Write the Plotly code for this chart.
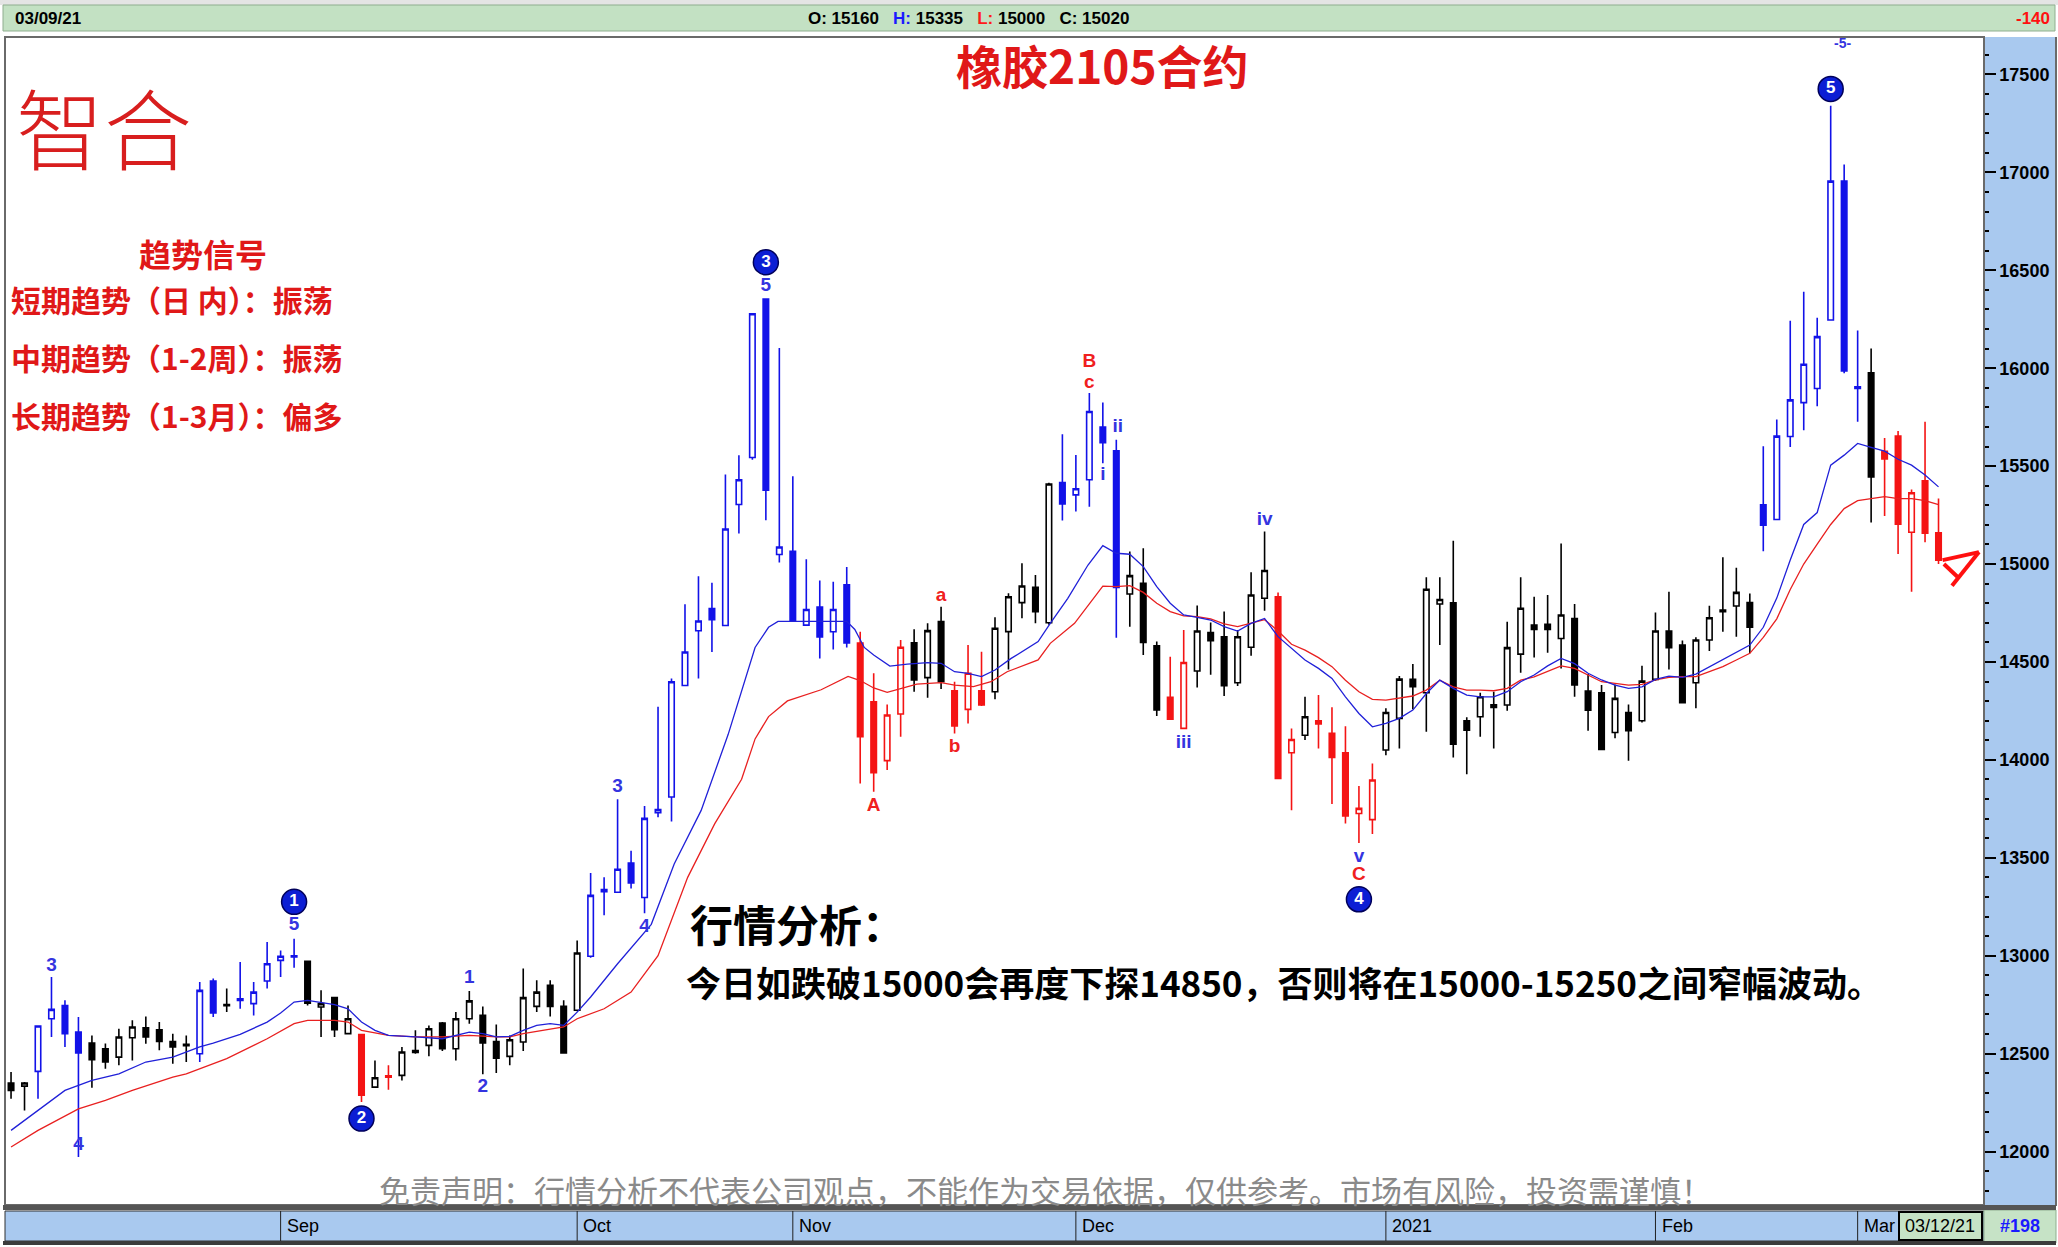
import plotly.graph_objects as go

# ---------------- DATA ----------------
candle_idx = list(range(1, 145))
opens = [12350, 12334, 12409, 12678, 12746, 12610, 12554, 12525, 12482, 12581,
         12632, 12622, 12562, 12547, 12499, 12871, 12750, 12780, 12755, 12871,
         12976, 12993, 12971, 12738, 12786, 12602, 12597, 12329, 12380, 12389,
         12516, 12542, 12656, 12525, 12678, 12695, 12562, 12486, 12559, 12741,
         12849, 12741, 12721, 12997, 13327, 13324, 13473, 13297, 13730, 13810,
         14380, 14659, 14773, 14686, 15304, 15544, 16353, 15049, 15065, 14688,
         14780, 14654, 14894, 14597, 14297, 13996, 14234, 14598, 14420, 14706,
         14353, 14258, 14353, 14348, 14655, 14803, 14881, 14700, 15416, 15353,
         15430, 15699, 15578, 14847, 14902, 14582, 14319, 14161, 14454, 14650,
         14629, 14394, 14575, 14825, 14833, 14036, 14126, 14200, 14135, 14036,
         13726, 13695, 14050, 14212, 14411, 14343, 14796, 14802, 14200, 14220,
         14281, 14280, 14540, 14688, 14692, 14620, 14722, 14351, 14343, 14140,
         14242, 14200, 14411, 14658, 14586, 14394, 14612, 14765, 14786, 14803,
         15303, 15227, 15651, 15824, 15896, 16246, 16955, 15905, 15976, 15576,
         15653, 15162, 15425, 15160]
highs = [12406, 12355, 12641, 12891, 12772, 12687, 12593, 12551, 12627, 12670,
         12690, 12661, 12601, 12593, 12866, 12883, 12832, 12968, 12866, 13070,
         13027, 13087, 12971, 12823, 12789, 12746, 12597, 12465, 12440, 12534,
         12619, 12644, 12661, 12712, 12820, 12741, 12649, 12593, 12934, 12874,
         12874, 12772, 13078, 13422, 13400, 13799, 13536, 13765, 14271, 14415,
         14795, 14937, 14905, 15457, 15555, 16278, 16353, 16103, 15448, 15024,
         14916, 14910, 14985, 14654, 14442, 14283, 14612, 14667, 14697, 14782,
         14399, 14587, 14552, 14728, 14851, 15004, 14944, 15415, 15663, 15557,
         15873, 15825, 15634, 15064, 15081, 14604, 14527, 14663, 14788, 14701,
         14757, 14663, 14958, 15166, 14854, 14160, 14322, 14331, 14268, 14172,
         13866, 13982, 14263, 14428, 14489, 14932, 14932, 15119, 14217, 14343,
         14348, 14705, 14932, 14833, 14842, 15105, 14796, 14438, 14382, 14385,
         14283, 14481, 14752, 14859, 14609, 14626, 14787, 15034, 14981, 14850,
         15602, 15738, 16242, 16390, 16258, 17340, 17040, 16192, 16101, 15643,
         15679, 15380, 15727, 15335]
lows = [12270, 12210, 12270, 12585, 12534, 11972, 12326, 12423, 12440, 12465,
        12550, 12517, 12448, 12457, 12457, 12687, 12712, 12729, 12695, 12832,
        12891, 12939, 12746, 12585, 12585, 12598, 12253, 12326, 12316, 12363,
        12499, 12486, 12513, 12465, 12653, 12394, 12401, 12440, 12513, 12712,
        12690, 12499, 12716, 12990, 13206, 13324, 13343, 13217, 13707, 13685,
        14380, 14415, 14551, 14686, 15156, 15532, 15224, 15008, 14711, 14688,
        14517, 14563, 14574, 13879, 13837, 13948, 14118, 14348, 14317, 14362,
        14135, 14186, 14275, 14309, 14462, 14723, 14697, 14690, 15222, 15268,
        15293, 15515, 14624, 14680, 14536, 14224, 14204, 14161, 14370, 14434,
        14326, 14377, 14531, 14762, 13905, 13743, 14101, 14058, 13774, 13675,
        13576, 13621, 14024, 14058, 14258, 14143, 14586, 14012, 13927, 14118,
        14058, 14251, 14445, 14523, 14547, 14467, 14322, 14149, 14053, 14110,
        13996, 14191, 14404, 14462, 14288, 14263, 14556, 14654, 14629, 14544,
        15065, 15223, 15597, 15683, 15806, 16242, 15974, 15727, 15212, 15245,
        15051, 14858, 15111, 15000]
closes = [12312, 12350, 12641, 12726, 12602, 12503, 12469, 12457, 12585, 12636,
          12585, 12562, 12534, 12540, 12823, 12707, 12744, 12772, 12814, 12959,
          12997, 13000, 12758, 12755, 12622, 12678, 12287, 12377, 12387, 12508,
          12506, 12627, 12525, 12678, 12769, 12554, 12477, 12571, 12786, 12814,
          12741, 12503, 13014, 13308, 13338, 13441, 13372, 13701, 13746, 14399,
          14551, 14709, 14716, 15179, 15430, 16278, 15377, 15087, 14711, 14768,
          14627, 14768, 14597, 14118, 13934, 14229, 14575, 14408, 14660, 14399,
          14173, 14442, 14280, 14672, 14833, 14888, 14757, 15409, 15307, 15384,
          15779, 15620, 14881, 14941, 14600, 14255, 14207, 14497, 14658, 14609,
          14379, 14629, 14842, 14967, 13905, 14104, 14220, 14183, 14012, 13713,
          13752, 13897, 14242, 14412, 14373, 14871, 14819, 14080, 14152, 14322,
          14268, 14573, 14774, 14666, 14666, 14740, 14382, 14254, 14053, 14314,
          14149, 14402, 14658, 14573, 14292, 14612, 14726, 14757, 14855, 14677,
          15198, 15653, 15838, 16020, 16161, 16955, 15986, 15897, 15445, 15536,
          15203, 15364, 15158, 15020]
# wave state of each candle: k = neutral, b = impulse wave, r = corrective wave
wave_state = list("kkbbbbkkkkkkkkbbkbbbbbkkkkrkrk"
                  + "k" * 13 + "b" * 20 + "r" * 4 + "k" * 3 + "r" * 3 + "k" * 5
                  + "b" * 5 + "k" * 3 + "r" * 2 + "k" * 6 + "r" * 2 + "k"
                  + "r" * 5 + "k" * 28 + "b" * 8 + "k" + "r" * 5)

# moving averages (candle index, price)
ma_fast_idx = [1, 3, 5, 7, 9, 11, 13, 15, 16, 18, 20, 21, 22, 23, 25, 26, 27, 28, 29,
               31, 33, 35, 36, 37, 38, 39, 40, 41, 42, 43, 44, 46, 48.5, 50.2, 52.2,
               54.2, 55.2, 56.2, 57.2, 57.9, 63, 63.6, 64.3, 65, 66.2, 67.5, 69, 70,
               71, 72, 73, 74, 75.2, 76.2, 77.2, 78.1, 79.4, 80.9, 82, 83, 84, 85, 86,
               87, 88, 89, 90, 91, 92, 93, 94, 95, 96, 97, 98, 99, 100, 101, 102, 103,
               104, 105, 106, 107, 108, 109, 110, 111, 112, 113, 114, 115, 116, 117,
               118, 119, 120, 121, 122, 123, 124, 125, 126, 127, 128, 129, 130, 131,
               132, 133, 134, 135, 136, 137, 138, 139, 140, 141, 142, 143, 144]
ma_fast_val = [12108, 12210, 12312, 12363, 12397, 12457, 12482, 12534, 12554, 12598,
               12661, 12707, 12763, 12772, 12750, 12729, 12661, 12619, 12593, 12585,
               12576, 12610, 12602, 12585, 12588, 12619, 12644, 12653, 12644, 12712,
               12789, 12959, 13160, 13468, 13742, 14129, 14358, 14574, 14677, 14707,
               14707, 14666, 14574, 14535, 14479, 14489, 14496, 14493, 14450, 14442,
               14425, 14459, 14518, 14561, 14604, 14697, 14825, 14995, 15094, 15055,
               15050, 14987, 14885, 14800, 14740, 14728, 14714, 14680, 14658, 14697,
               14722, 14629, 14569, 14510, 14467, 14416, 14322, 14237, 14169, 14186,
               14212, 14254, 14339, 14407, 14365, 14331, 14322, 14322, 14348, 14399,
               14433, 14480, 14518, 14491, 14442, 14408, 14382, 14365, 14373, 14411,
               14428, 14421, 14438, 14476, 14510, 14552, 14586, 14677, 14826, 15021,
               15202, 15263, 15505, 15556, 15616, 15596, 15576, 15535, 15505, 15455,
               15394]
ma_slow_idx = [1, 3, 6, 8, 10, 13, 14, 15, 17, 20, 22, 23, 25, 26, 27, 29, 31, 33, 35,
               37, 38, 39, 41, 42, 43, 45, 47, 49, 51.2, 53.2, 55.2, 56.2, 57.2, 58.6,
               61.1, 63.1, 64, 65, 66, 67, 68.2, 70, 71, 72.4, 73.7, 74.9, 76.2, 77.2,
               78.1, 79.9, 82, 83, 84, 85, 86, 87, 88, 89, 90, 91, 92, 93, 94, 95, 96,
               97, 98, 99, 100, 101, 102, 103, 104, 105, 106, 107, 108, 109, 110, 111,
               112, 113, 114, 115, 116, 117, 118, 119, 120, 121, 122, 123, 124, 125,
               126, 127, 128, 129, 130, 131, 132, 133, 134, 135, 136, 137, 138, 139,
               140, 141, 142, 143, 144]
ma_slow_val = [12023, 12108, 12218, 12261, 12312, 12380, 12397, 12423, 12474, 12576,
               12653, 12670, 12670, 12661, 12619, 12593, 12585, 12585, 12593, 12585,
               12585, 12602, 12627, 12636, 12678, 12729, 12814, 13000, 13400, 13673,
               13901, 14107, 14221, 14301, 14358, 14426, 14405, 14367, 14345, 14365,
               14387, 14394, 14382, 14374, 14399, 14450, 14484, 14510, 14595, 14697,
               14887, 14885, 14890, 14855, 14800, 14757, 14735, 14731, 14720, 14694,
               14680, 14697, 14716, 14658, 14590, 14560, 14522, 14476, 14407, 14348,
               14309, 14305, 14314, 14326, 14356, 14407, 14373, 14356, 14356, 14353,
               14365, 14407, 14424, 14450, 14480, 14467, 14433, 14399, 14391, 14382,
               14385, 14408, 14421, 14425, 14425, 14450, 14476, 14510, 14544, 14625,
               14720, 14870, 15000, 15101, 15202, 15283, 15324, 15334, 15344, 15334,
               15334, 15324, 15303]

month_labels = ["Sep", "Oct", "Nov", "Dec", "2021", "Feb", "Mar"]
month_start = [21, 43, 59, 80, 103, 123, 138]

circle_labels = ["1", "2", "3", "4", "5"]
circle_idx = [22, 27, 57, 101, 136]
circle_price = [13275, 12168, 16541, 13288, 17426]

blue_labels = ["3", "4", "5", "1", "2", "3", "4", "5", "i", "ii", "iii", "iv", "v"]
blue_idx = [4, 6, 22, 35, 36, 46, 48, 57, 82, 83.1, 88, 94, 101]
blue_price = [12946, 12030, 13154, 12886, 12329, 13858, 13147, 16420, 15454, 15696,
              14086, 15226, 13503]
red_labels = ["A", "a", "b", "B", "c", "C"]
red_idx = [65, 70, 71, 81, 81, 101]
red_price = [13764, 14837, 14066, 16031, 15924, 13409]

arrow_idx = [144.3, 147.0, None, 145.0, 147.0, None, 144.4, 145.4]
arrow_price = [15020, 15061, None, 14889, 15061, None, 15000, 14935]

header_date = "03/09/21"
change_value = -140
end_date = "03/12/21"
bar_count = "#198"
title_text = "橡胶2105合约"
logo_text = "智合"
signal_title = "趋势信号"
signal_lines = ["短期趋势（日 内）：振荡", "中期趋势（1-2周）：振荡", "长期趋势（1-3月）：偏多"]
analysis_title = "行情分析："
analysis_text = "今日如跌破15000会再度下探14850，否则将在15000-15250之间窄幅波动。"
disclaimer = "免责声明：行情分析不代表公司观点，不能作为交易依据，仅供参考。市场有风险，投资需谨慎！"

# ---------------- LAYOUT GEOMETRY ----------------
W, H = 2058, 1247
PL, PR, PT, PB = 7, 1983, 39, 1204


def px(X):
    return (X - PL) / (PR - PL)


def py(Y):
    return (PB - Y) / (PB - PT)


CJK = "Noto Sans CJK SC"
LAT = "Liberation Sans"

fig = go.Figure()

group_colors = {"k": "#000000", "b": "#1212e8", "r": "#f41414"}
for g, col in group_colors.items():
    sel = [i for i, s in enumerate(wave_state) if s == g]
    fig.add_trace(go.Candlestick(
        x=[candle_idx[i] for i in sel],
        open=[opens[i] for i in sel], high=[highs[i] for i in sel],
        low=[lows[i] for i in sel], close=[closes[i] for i in sel],
        increasing=dict(line=dict(color=col, width=1.6), fillcolor="#ffffff"),
        decreasing=dict(line=dict(color=col, width=1.6), fillcolor=col),
        whiskerwidth=0, hoverinfo="skip", showlegend=False))

fig.add_trace(go.Scatter(x=ma_slow_idx, y=ma_slow_val, mode="lines",
                         line=dict(color="#e82020", width=1.3), hoverinfo="skip",
                         showlegend=False))
fig.add_trace(go.Scatter(x=ma_fast_idx, y=ma_fast_val, mode="lines",
                         line=dict(color="#2020d8", width=1.3), hoverinfo="skip",
                         showlegend=False))

fig.add_trace(go.Scatter(x=arrow_idx, y=arrow_price, mode="lines",
                         line=dict(color="#ff1010", width=4), hoverinfo="skip",
                         showlegend=False))

fig.add_trace(go.Scatter(x=blue_idx, y=blue_price, mode="text", text=blue_labels,
                         textfont=dict(family=LAT, size=19, color="#3434e0", weight="bold"),
                         hoverinfo="skip", showlegend=False))
fig.add_trace(go.Scatter(x=red_idx, y=red_price, mode="text", text=red_labels,
                         textfont=dict(family=LAT, size=19, color="#f02020", weight="bold"),
                         hoverinfo="skip", showlegend=False))
fig.add_trace(go.Scatter(x=circle_idx, y=circle_price, mode="markers+text",
                         text=circle_labels, textposition="middle center",
                         marker=dict(size=25, color="#0c1ed4",
                                     line=dict(color="#00005a", width=1.5)),
                         textfont=dict(family=LAT, size=17, color="#ffffff", weight="bold"),
                         hoverinfo="skip", showlegend=False))

shapes = []
# top strip & header bar
shapes.append(dict(type="rect", xref="paper", yref="paper", x0=px(0), x1=px(W),
                   y0=py(5), y1=py(0), fillcolor="#e4e4e4", line=dict(width=0), layer="below"))
shapes.append(dict(type="rect", xref="paper", yref="paper", x0=px(3), x1=px(W - 3),
                   y0=py(31), y1=py(5), fillcolor="#c3e1c3",
                   line=dict(color="#8fae8f", width=1), layer="below"))
# right axis panel
shapes.append(dict(type="rect", xref="paper", yref="paper", x0=px(1984), x1=px(2056),
                   y0=py(1206), y1=py(37), fillcolor="#a9c9ef", line=dict(width=0),
                   layer="below"))
# plot frame
shapes.append(dict(type="rect", xref="paper", yref="paper", x0=px(5), x1=px(1984),
                   y0=py(1205), y1=py(37), line=dict(color="#6a6a6a", width=2)))
shapes.append(dict(type="line", xref="paper", yref="paper", x0=px(2056), x1=px(2056),
                   y0=py(1206), y1=py(37), line=dict(color="#6a6a6a", width=2)))
# separator under plot
shapes.append(dict(type="rect", xref="paper", yref="paper", x0=px(3), x1=px(2056),
                   y0=py(1210), y1=py(1205), fillcolor="#555555", line=dict(width=0)))
# x band
shapes.append(dict(type="rect", xref="paper", yref="paper", x0=px(5), x1=px(1984),
                   y0=py(1241), y1=py(1211), fillcolor="#a9c9ef",
                   line=dict(color="#303030", width=1), layer="below"))
shapes.append(dict(type="rect", xref="paper", yref="paper", x0=px(1984), x1=px(2056),
                   y0=py(1243), y1=py(1210), fillcolor="#c6e3c6",
                   line=dict(color="#8fae8f", width=1), layer="below"))
shapes.append(dict(type="rect", xref="paper", yref="paper", x0=px(3), x1=px(2056),
                   y0=py(1245), y1=py(1241), fillcolor="#3c3c3c", line=dict(width=0)))
for m in month_start:
    shapes.append(dict(type="line", xref="x", yref="paper", x0=m, x1=m,
                       y0=py(1241), y1=py(1211), line=dict(color="#202020", width=1)))
shapes.append(dict(type="rect", xref="paper", yref="paper", x0=px(1899), x1=px(1982),
                   y0=py(1240), y1=py(1212), fillcolor="#c6e3c6",
                   line=dict(color="#000000", width=2)))

ann = []
ann.append(dict(text=header_date, x=px(13), y=py(18), xref="paper", yref="paper",
                xanchor="left", yanchor="middle", showarrow=False,
                font=dict(family=LAT, size=17, color="#000", weight="bold")))
hdr = (f"O: {opens[-1]}   <span style='color:#1a1aff'>H:</span> {highs[-1]}   "
       f"<span style='color:#ff1a1a'>L:</span> {lows[-1]}   C: {closes[-1]}")
ann.append(dict(text=hdr, x=px(806), y=py(18), xref="paper", yref="paper",
                xanchor="left", yanchor="middle", showarrow=False,
                font=dict(family=LAT, size=17, color="#000", weight="bold")))
ann.append(dict(text=str(change_value), x=px(2052), y=py(18), xref="paper", yref="paper",
                xanchor="right", yanchor="middle", showarrow=False,
                font=dict(family=LAT, size=17, color="#ff1010", weight="bold")))
ann.append(dict(text=title_text, x=px(1102), y=py(64), xref="paper", yref="paper",
                xanchor="center", yanchor="middle", showarrow=False,
                font=dict(family=CJK, size=46, color="#e01818", weight="bold")))
ann.append(dict(text=logo_text, x=px(14), y=py(124), xref="paper", yref="paper",
                xanchor="left", yanchor="middle", showarrow=False,
                font=dict(family=CJK, size=88, color="#d81e1e", weight=300)))
ann.append(dict(text=signal_title, x=px(203), y=py(253), xref="paper", yref="paper",
                xanchor="center", yanchor="middle", showarrow=False,
                font=dict(family=CJK, size=32, color="#e01818", weight="bold")))
for k, (line, Y) in enumerate(zip(signal_lines, [299, 357, 415])):
    ann.append(dict(text=line, x=px(9), y=py(Y), xref="paper", yref="paper",
                    xanchor="left", yanchor="middle", showarrow=False,
                    font=dict(family=CJK, size=30, color="#e01818", weight="bold")))
ann.append(dict(text=analysis_title, x=px(688), y=py(923), xref="paper", yref="paper",
                xanchor="left", yanchor="middle", showarrow=False,
                font=dict(family=CJK, size=43, color="#000", weight="bold")))
ann.append(dict(text=analysis_text, x=px(684), y=py(981), xref="paper", yref="paper",
                xanchor="left", yanchor="middle", showarrow=False,
                font=dict(family=CJK, size=35, color="#000", weight="bold")))
ann.append(dict(text=disclaimer, x=px(1045), y=py(1189), xref="paper", yref="paper",
                xanchor="center", yanchor="middle", showarrow=False,
                font=dict(family=CJK, size=31, color="#8a8a8a")))
for lab, m in zip(month_labels, month_start):
    ann.append(dict(text=lab, x=m + 0.3, y=py(1226), xref="x", yref="paper",
                    xanchor="left", yanchor="middle", showarrow=False,
                    font=dict(family=LAT, size=18, color="#000")))
ann.append(dict(text=end_date, x=px(1940), y=py(1226), xref="paper", yref="paper",
                xanchor="center", yanchor="middle", showarrow=False,
                font=dict(family=LAT, size=18, color="#000")))
ann.append(dict(text=bar_count, x=px(2020), y=py(1226), xref="paper", yref="paper",
                xanchor="center", yanchor="middle", showarrow=False,
                font=dict(family=LAT, size=18, color="#1a1aff", weight="bold")))
ann.append(dict(text="-5-", x=136.9, y=py(43), xref="x", yref="paper",
                xanchor="center", yanchor="middle", showarrow=False,
                font=dict(family=LAT, size=14, color="#3434e0", weight="bold")))

fig.update_layout(
    width=W, height=H, autosize=False,
    margin=dict(l=PL, r=W - PR, t=PT, b=H - PB),
    paper_bgcolor="#ffffff", plot_bgcolor="#ffffff",
    boxgap=0.42,
    showlegend=False,
    shapes=shapes, annotations=ann,
    xaxis=dict(range=[0.7, 147.3], showticklabels=False, showgrid=False,
               zeroline=False, ticks="", showline=False,
               rangeslider=dict(visible=False), fixedrange=True),
    yaxis=dict(side="right", range=[11732, 17681], tick0=0, dtick=500,
               tickformat="d", ticks="outside", ticklen=11, tickwidth=1.5,
               tickcolor="#000", showgrid=False, zeroline=False,
               showline=True, linecolor="#333", linewidth=1.5,
               tickfont=dict(family=LAT, size=18, color="#000", weight="bold"),
               minor=dict(dtick=100, ticks="outside", ticklen=4, tickcolor="#000"),
               fixedrange=True),
)

fig.write_html("out.html", config={"displayModeBar": False},
               post_script="document.body.style.margin='0';document.body.style.padding='0';document.body.style.overflow='hidden';")
